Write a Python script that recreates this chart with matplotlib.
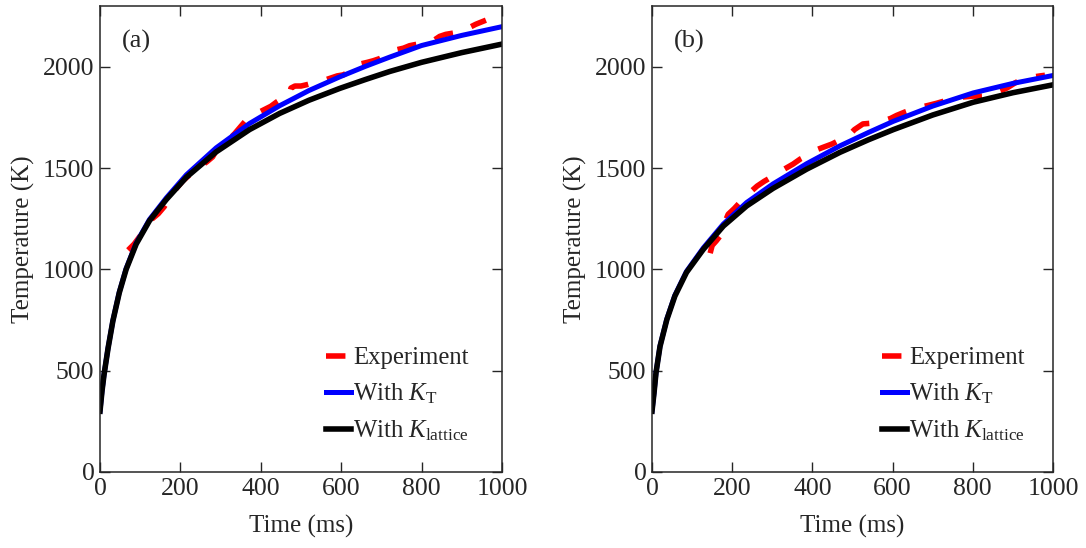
import matplotlib
matplotlib.use("Agg")
import matplotlib.pyplot as plt

plt.rcParams['font.family'] = ['Liberation Serif', 'DejaVu Serif']
plt.rcParams['mathtext.fontset'] = 'custom'
plt.rcParams['mathtext.rm'] = 'Liberation Serif'
plt.rcParams['mathtext.it'] = 'Liberation Serif:italic'

# ---- panel (a) ----
t_model_a = [0, 5, 10, 20, 32, 48, 65, 90, 123, 165, 215, 289, 372, 447, 520,
             596, 660, 721, 800, 900, 1000]
T_lattice_a = [300, 400, 480, 610, 745, 885, 1000, 1125, 1240, 1345, 1455, 1580,
               1690, 1770, 1835, 1893, 1937, 1977, 2022, 2070, 2112]
T_kt_a = [300, 401, 481, 612, 747, 888, 1004, 1130, 1246, 1353, 1467, 1600,
          1720, 1808, 1883, 1950, 2002, 2048, 2105, 2155, 2198]
t_exp_a = [70, 85, 100, 115, 130, 145, 160, 175, 190, 205, 220, 235, 250, 265,
           280, 290, 305, 320, 335, 350, 365, 380, 395, 410, 425, 440, 455, 470,
           475, 485, 500, 515, 530, 545, 560, 575, 590, 605, 620, 635, 650, 665,
           680, 695, 710, 725, 740, 755, 770, 785, 800, 815, 830, 845, 860, 875,
           890, 905, 920, 935, 950, 960]
T_exp_a = [1095, 1125, 1165, 1215, 1250, 1275, 1310, 1360, 1400, 1435, 1462,
           1490, 1510, 1530, 1555, 1590, 1615, 1640, 1670, 1705, 1740, 1760,
           1775, 1790, 1805, 1827, 1845, 1855, 1895, 1905, 1905, 1912, 1920,
           1928, 1935, 1945, 1955, 1960, 1975, 2005, 2015, 2022, 2030, 2040,
           2055, 2075, 2085, 2092, 2104, 2110, 2115, 2122, 2130, 2150, 2160,
           2165, 2170, 2180, 2195, 2210, 2222, 2230]

# ---- panel (b) ----
t_model_b = [0, 5, 10, 20, 37, 57, 86, 128, 178, 236, 302, 386, 469, 540, 602,
             700, 801, 900, 1000]
T_lattice_b = [300, 390, 490, 620, 752, 868, 985, 1099, 1214, 1313, 1400, 1495,
               1578, 1640, 1690, 1762, 1825, 1872, 1911]
T_kt_b = [300, 391, 491, 622, 755, 872, 990, 1106, 1224, 1330, 1422, 1522,
          1610, 1676, 1731, 1806, 1871, 1918, 1957]
t_exp_b = [145, 150, 160, 170, 180, 190, 205, 220, 235, 250, 262, 280, 302,
           315, 330, 352, 370, 394, 410, 430, 449, 470, 489, 505, 526, 550, 576,
           595, 610, 631, 650, 673, 690, 710, 731, 755, 776, 800, 820, 835, 850,
           868, 885, 905, 925, 945, 968, 980]
T_exp_b = [1080, 1118, 1140, 1165, 1225, 1272, 1300, 1332, 1365, 1390, 1411,
           1435, 1460, 1480, 1495, 1520, 1545, 1569, 1590, 1605, 1619, 1640,
           1658, 1690, 1718, 1722, 1733, 1745, 1760, 1777, 1790, 1802, 1810,
           1820, 1832, 1842, 1851, 1855, 1855, 1856, 1866, 1881, 1895, 1920,
           1940, 1948, 1955, 1958]

x_ticks = [0, 200, 400, 600, 800, 1000]
y_ticks = [0, 500, 1000, 1500, 2000]
panel_labels = ['(a)', '(b)']
series_labels = ['Experiment', r'With $K_\mathrm{T}$', r'With $K_\mathrm{lattice}$']

ink = '#262626'
tick_fs = 18.5
label_fs = 18
legend_fs = 17.8

fig = plt.figure(figsize=(10.86, 5.48), dpi=100)
ax_a = fig.add_axes([100 / 1086, 76 / 548, 402 / 1086, 466 / 548])
ax_b = fig.add_axes([652 / 1086, 76 / 548, 401 / 1086, 466 / 548])

panels = [
    (ax_a, t_exp_a, T_exp_a, t_model_a, T_kt_a, T_lattice_a, 0.562),
    (ax_b, t_exp_b, T_exp_b, t_model_b, T_kt_b, T_lattice_b, 0.574),
]

for (ax, te, Te, tm, Tkt, Tlat, lx), plab in zip(panels, panel_labels):
    ax.plot(te, Te, color='red', lw=4, dashes=(3.5, 3.5),
            solid_capstyle='butt', dash_capstyle='butt', label=series_labels[0])
    ax.plot(tm, Tkt, color='blue', lw=3.6, label=series_labels[1])
    ax.plot(tm, Tlat, color='black', lw=4, label=series_labels[2])

    ax.set_xlim(0, 1000)
    ax.set_ylim(0, 2300)
    ax.set_xticks(x_ticks)
    ax.set_yticks(y_ticks)
    ax.tick_params(direction='in', length=7, width=1.0, colors=ink,
                   labelsize=tick_fs, top=True, right=True, pad=4)
    for sp in ax.spines.values():
        sp.set_color(ink)
        sp.set_linewidth(1.1)
    ax.set_xlabel('Time (ms)', fontsize=label_fs, color=ink, labelpad=11)
    ax.set_ylabel('Temperature (K)', fontsize=label_fs, color=ink, labelpad=6)
    ax.text(0.055, 0.923, plab, transform=ax.transAxes, fontsize=19,
            color=ink, ha='left', va='center')
    leg = ax.legend(loc='upper left', bbox_to_anchor=(lx, 0.268),
                    frameon=False, fontsize=legend_fs, handlelength=1.0,
                    handletextpad=0.1, labelspacing=0.5, borderaxespad=0.0,
                    borderpad=0.0)
    for txt in leg.get_texts():
        txt.set_color(ink)

fig.savefig('out.png', dpi=100)
